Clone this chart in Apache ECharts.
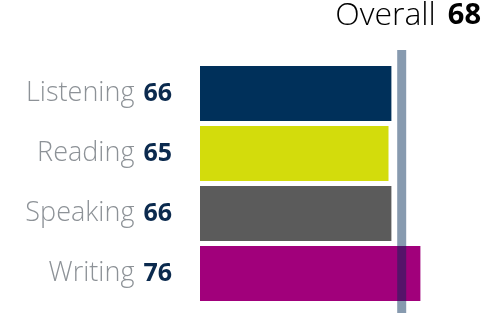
<!DOCTYPE html>
<html>
<head>
<meta charset="utf-8">
<script src="https://cdn.jsdelivr.net/npm/echarts@6/dist/echarts.min.js"></script>
<style>
  html, body { margin: 0; padding: 0; background: #fff; }
  #chart { width: 500px; height: 334px; }
</style>
</head>
<body>
<div id="chart"></div>
<script>
// Test sections and their scores
const skills = ['Listening', 'Reading', 'Speaking', 'Writing'];
const scores = [66, 65, 66, 76];
const barColors = ['#00305a', '#d3dc0c', '#5b5b5b', '#a1007b'];
const overallLabel = 'Overall';
const overallScore = 68;

const chart = echarts.init(document.getElementById('chart'));

const font = '"Open Sans", "Noto Sans", sans-serif';

chart.setOption({
  animation: false,
  backgroundColor: '#ffffff',
  grid: { left: 200, width: 290, top: 63.5, height: 240, containLabel: false },
  xAxis: {
    type: 'value', min: 0, max: 100, show: false
  },
  yAxis: {
    type: 'category',
    data: skills,
    inverse: true,
    axisLine: { show: false },
    axisTick: { show: false },
    splitLine: { show: false },
    axisLabel: {
      margin: 28,
      formatter: function (name, idx) {
        return '{n|' + name + '}{v|' + scores[idx] + '}';
      },
      rich: {
        n: { fontFamily: font, fontWeight: 300, fontSize: 27, color: '#8d9297' },
        v: { fontFamily: font, fontWeight: 'bold', fontSize: 25, color: '#0b2a4e', padding: [0, 0, 0, 9] }
      }
    }
  },
  series: [
    {
      type: 'bar',
      data: scores.map((v, i) => ({ value: v, itemStyle: { color: barColors[i] } })),
      barWidth: 55,
      z: 2
    },
    {
      // vertical marker for the overall score, starting at its value
      type: 'custom',
      data: [overallScore],
      z: 5,
      renderItem: function (params, api) {
        const x = api.coord([api.value(0), 0])[0];
        const cs = params.coordSys;
        return {
          type: 'rect',
          shape: { x: x, y: cs.y - 13.5, width: 9, height: cs.height + 23 },
          style: { fill: 'rgba(0, 40, 85, 0.47)' }
        };
      }
    }
  ],
  graphic: [{
    type: 'text',
    right: 19,
    top: 0,
    style: {
      text: '{n|' + overallLabel + '}{v|' + overallScore + '}',
      rich: {
        n: { fontFamily: font, fontWeight: 300, fontSize: 32, color: '#8d9297' },
        v: { fontFamily: font, fontWeight: 'bold', fontSize: 29, color: '#0b2a4e', padding: [0, 0, 0, 12] }
      }
    }
  }]
});
</script>
</body>
</html>
